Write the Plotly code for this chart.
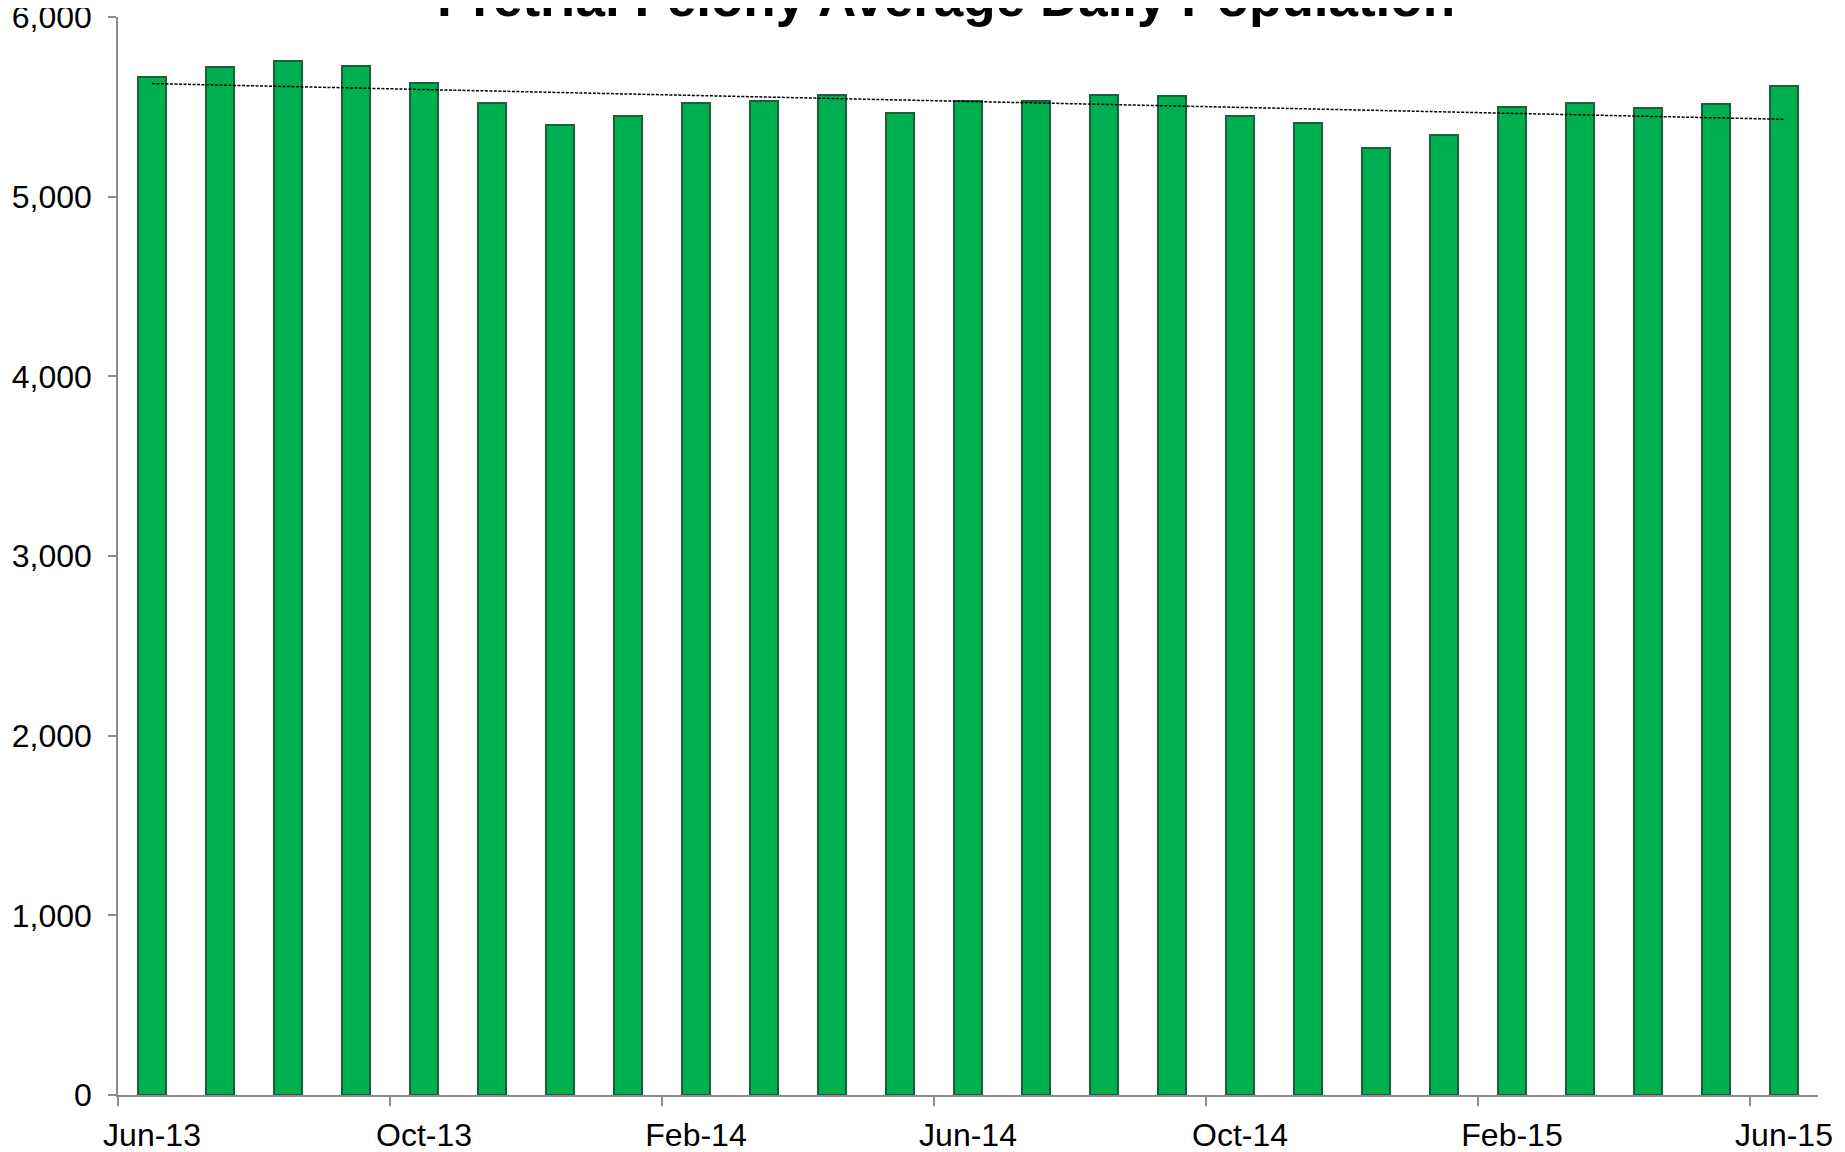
import numpy as np
import plotly.graph_objects as go

months = ["Jun-13", "Jul-13", "Aug-13", "Sep-13", "Oct-13", "Nov-13", "Dec-13",
          "Jan-14", "Feb-14", "Mar-14", "Apr-14", "May-14", "Jun-14", "Jul-14",
          "Aug-14", "Sep-14", "Oct-14", "Nov-14", "Dec-14", "Jan-15", "Feb-15",
          "Mar-15", "Apr-15", "May-15", "Jun-15"]
population = [5664, 5723, 5755, 5729, 5634, 5519, 5397, 5447, 5519, 5534,
              5566, 5464, 5532, 5530, 5564, 5560, 5447, 5410, 5271, 5343,
              5499, 5519, 5494, 5514, 5616]
tick_labels = ["Jun-13", "Oct-13", "Feb-14", "Jun-14", "Oct-14", "Feb-15", "Jun-15"]
y_ticks = [0, 1000, 2000, 3000, 4000, 5000, 6000]

idx = np.arange(len(months))
xpos = idx + 0.5
label_pos = [months.index(t) + 0.5 for t in tick_labels]
tick_pos = [months.index(t) for t in tick_labels]

slope, intercept = np.polyfit(idx, population, 1)
trend = slope * idx + intercept

AX = "#8C8C8C"
FONT = "Liberation Sans, Arial, sans-serif"

fig = go.Figure()
fig.add_trace(go.Bar(
    x=xpos, y=population, width=0.41,
    marker=dict(color="#00B050", line=dict(color="#1B5E3A", width=2)),
    showlegend=False, hoverinfo="skip",
))
fig.add_trace(go.Scatter(
    x=xpos, y=trend, mode="lines",
    line=dict(color="black", width=1.5, dash="3px,1.5px"),
    showlegend=False, hoverinfo="skip",
))

fig.update_layout(
    width=1837, height=1144,
    margin=dict(l=110, r=27, t=9, b=57),
    paper_bgcolor="white", plot_bgcolor="white",
    font=dict(family=FONT, size=32, color="black"),
    bargap=0,
    xaxis=dict(
        range=[0, 25], showgrid=False, zeroline=False, automargin=False,
        showline=True, linecolor=AX, linewidth=1.5,
        tickmode="array", tickvals=label_pos, ticktext=tick_labels,
        ticks="", ticklabelstandoff=11, ticklabeloverflow="allow",
        tickfont=dict(family=FONT, size=32, color="black"),
        minor=dict(tickmode="array", tickvals=tick_pos, ticks="outside",
                   ticklen=9, tickcolor=AX, tickwidth=1.5, showgrid=False),
    ),
    yaxis=dict(
        range=[0, 6000], showgrid=False, zeroline=False, automargin=False,
        showline=True, linecolor=AX, linewidth=1.5,
        tickmode="array", tickvals=y_ticks,
        ticktext=[f"{v:,}" for v in y_ticks],
        ticks="outside", ticklen=8, tickcolor=AX, tickwidth=1.5,
        ticklabelstandoff=10, ticklabeloverflow="allow",
        tickfont=dict(family=FONT, size=32, color="black"),
    ),
    annotations=[dict(
        text="<b>Pretrial Felony Average Daily Population</b>",
        xref="paper", yref="paper", x=0.487, y=1.0185,
        xanchor="center", yanchor="middle", showarrow=False,
        font=dict(family=FONT, size=53, color="black"),
    )],
)

fig.write_html("out.html")
